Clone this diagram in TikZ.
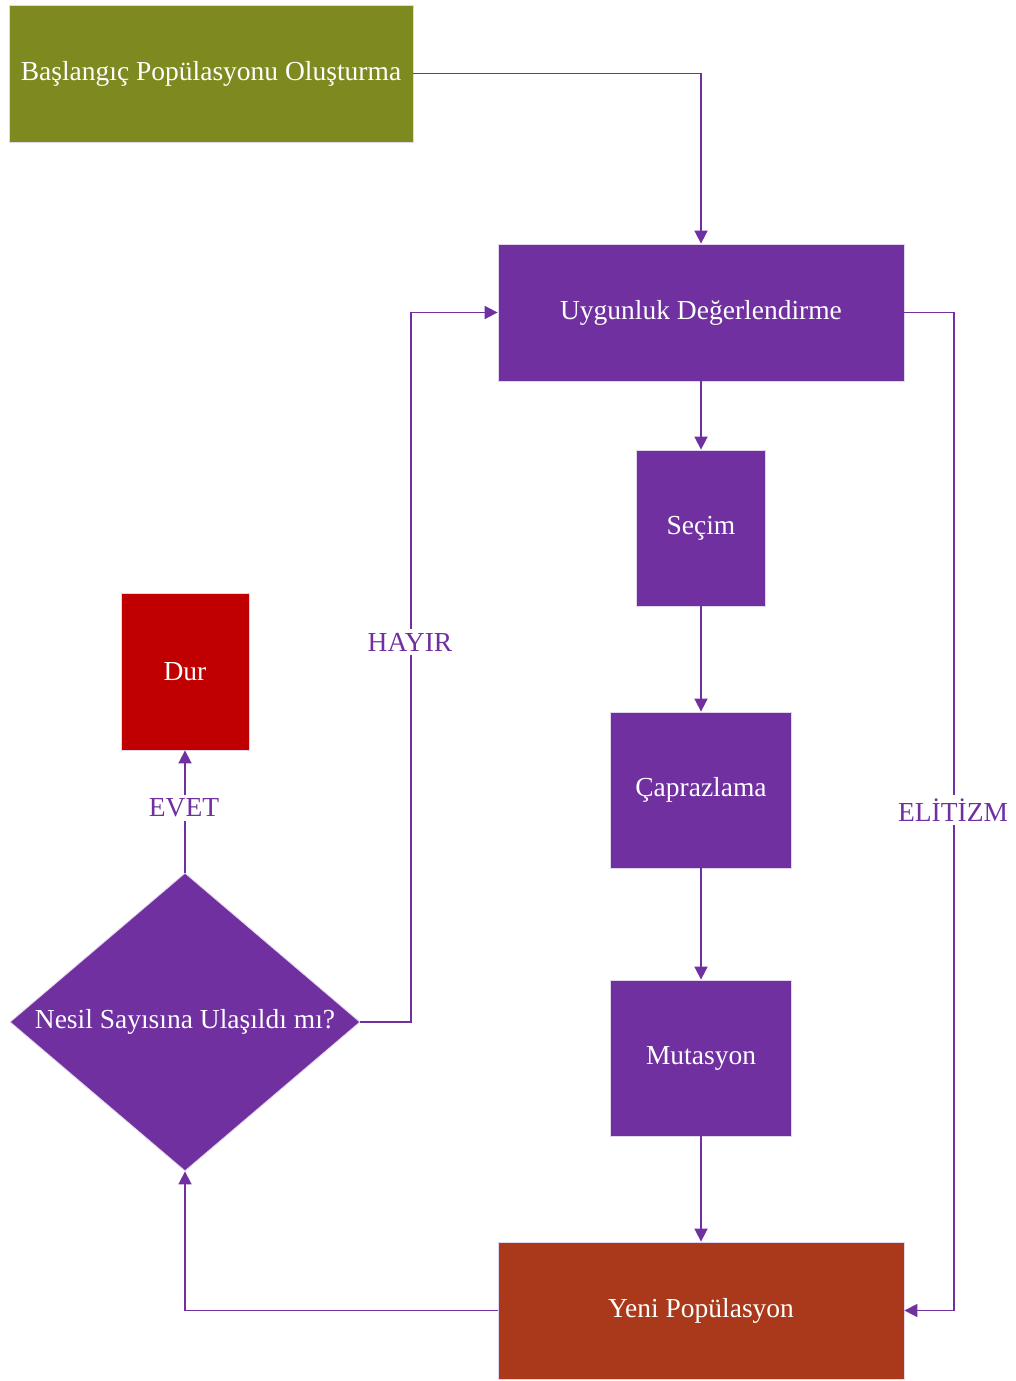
\documentclass[tikz,border=0pt]{standalone}
\usepackage{fontspec}
\setmainfont{Liberation Serif}
\usetikzlibrary{arrows.meta,shapes.geometric}
\definecolor{mor}{HTML}{7030A0}
\definecolor{zeytin}{HTML}{7E891F}
\definecolor{kirmizi}{HTML}{C00000}
\definecolor{kiremit}{HTML}{A9391A}
\tikzset{
  kutu/.style={rectangle, draw=white!80!mor, line width=0.8pt, text=white,
    font=\fontsize{27.5}{30}\selectfont, inner sep=0pt},
  baglanti/.style={draw=mor, line width=1.7pt,
    -{Triangle[length=13pt,width=13pt]}},
  etiket/.style={fill=white, text=mor, inner sep=4pt,
    font=\fontsize{27.5}{30}\selectfont}
}
\begin{document}
\begin{tikzpicture}[x=1pt,y=-1pt]
\useasboundingbox (0,0) rectangle (1016,1381);

% process boxes
\node[kutu, fill=zeytin, minimum width=404pt, minimum height=137pt] (bas) at (211,73.5) {Başlangıç Popülasyonu Oluşturma};
\node[kutu, fill=mor, minimum width=406pt, minimum height=137pt] (uyg) at (701,312.5) {Uygunluk Değerlendirme};
\node[kutu, fill=mor, minimum width=129pt, minimum height=156pt] (sec) at (701,528) {Seçim};
\node[kutu, fill=mor, minimum width=181pt, minimum height=156pt] (cap) at (701,790) {Çaprazlama};
\node[kutu, fill=mor, minimum width=181pt, minimum height=156pt] (mut) at (701,1058) {Mutasyon};
\node[kutu, fill=kiremit, minimum width=406pt, minimum height=137pt] (yeni) at (701,1310.5) {Yeni Popülasyon};
\node[kutu, fill=kirmizi, minimum width=128pt, minimum height=157pt] (dur) at (185,671.5) {Dur};

% decision
\node[diamond, fill=mor, draw=white!80!mor, line width=0.8pt, inner sep=0pt,
  minimum width=350pt, minimum height=298pt] (karar) at (185,1022) {};
\node[text=white, font=\fontsize{27.5}{30}\selectfont, inner sep=0pt] (karartxt) at (karar.center) {Nesil Sayısına Ulaşıldı mı?};

% main flow
\draw[baglanti] (bas.east) -- (uyg.north |- bas.east) -- (uyg.north);
\draw[baglanti] (uyg.south) -- (sec.north);
\draw[baglanti] (sec.south) -- (cap.north);
\draw[baglanti] (cap.south) -- (mut.north);
\draw[baglanti] (mut.south) -- (yeni.north);

% elitism branch
\coordinate (elit1) at (954,312.5);
\coordinate (elit2) at (954,1310.5);
\draw[baglanti] (uyg.east) -- (elit1) -- (elit2) -- (yeni.east);
\node[etiket] (elitizm) at (953,810) {ELİTİZM};

% new population back to decision
\coordinate (geri) at (karar.south |- yeni.west);
\draw[baglanti] (yeni.west) -- (geri) -- (karar.south);

% yes: stop
\draw[baglanti] (karar.north) -- (dur.south);
\node[etiket] (evet) at (184,808) {EVET};

% no: evaluate again
\coordinate (hay1) at (411,1022);
\coordinate (hay2) at (411,312.5);
\draw[baglanti] (karar.east) -- (hay1) -- (hay2) -- (uyg.west);
\node[etiket] (hayir) at (410,642) {HAYIR};
\end{tikzpicture}
\end{document}
